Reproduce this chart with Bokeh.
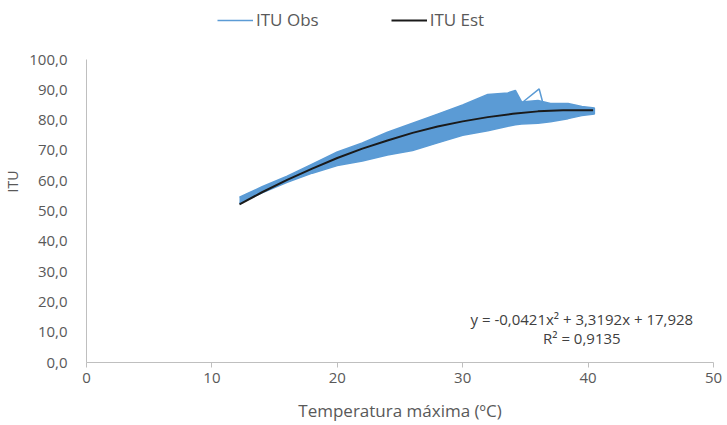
from bokeh.plotting import figure
from bokeh.models import Legend, LegendItem, Label, FixedTicker, Range1d
from bokeh.embed import file_html
from bokeh.resources import INLINE

obs_x    = [12.2, 14.0, 16.0, 18.0, 20.0, 22.0, 24.0, 26.0, 28.0, 30.0, 32.0, 33.6, 34.2, 34.7, 36.0, 37.0, 38.4, 39.5, 40.5]
obs_low  = [52.6, 56.0, 59.5, 62.5, 65.0, 66.5, 68.5, 70.0, 72.5, 75.0, 76.5, 78.0, 78.5, 78.7, 79.0, 79.5, 80.5, 81.5, 82.0]
obs_high = [54.6, 58.0, 61.5, 65.5, 69.5, 72.5, 76.0, 79.0, 82.0, 85.0, 88.5, 89.0, 89.8, 86.0, 86.5, 85.5, 85.5, 84.5, 84.0]
spike_x  = [34.8, 36.1, 36.4]
spike_y  = [86.0, 90.3, 85.6]

# Estimated ITU (trend curve)
est_x = [12.2, 14.0, 16.0, 18.0, 20.0, 22.0, 24.0, 26.0, 28.0, 30.0, 32.0, 34.0, 36.0, 38.0, 40.4]
est_y = [52.2, 56.2, 60.3, 64.0, 67.5, 70.6, 73.3, 75.8, 77.9, 79.6, 81.0, 82.1, 82.9, 83.3, 83.3]

x_ticks = [0, 10, 20, 30, 40, 50]
y_ticks = [0, 10, 20, 30, 40, 50, 60, 70, 80, 90, 100]
y_tick_labels = ["0,0", "10,0", "20,0", "30,0", "40,0", "50,0", "60,0", "70,0", "80,0", "90,0", "100,0"]

FONT = "Open Sans"
GRAY = "#595959"
AXIS = "#BFBFBF"
BLUE = "#5B9BD5"

# frame spans the full top so the legend can sit inside it; axis line bounded to 0..100
p = figure(width=727, height=425, output_backend="svg", toolbar_location=None,
           x_range=Range1d(0, 50), y_range=Range1d(0, 119.5),
           min_border_left=0, min_border_right=14, min_border_top=0, min_border_bottom=63)
p.outline_line_color = None
p.xgrid.visible = False
p.ygrid.visible = False
p.background_fill_color = "white"
p.border_fill_color = "white"

band = p.varea(x=obs_x, y1=obs_low, y2=obs_high, fill_color=BLUE)
outline = p.line(x=obs_x + obs_x[::-1], y=obs_high + obs_low[::-1], line_color=BLUE, line_width=1.5)
p.line(x=spike_x, y=spike_y, line_color=BLUE, line_width=1.5)
est = p.line(x=est_x, y=est_y, line_color="#1a1a1a", line_width=2)

# axes
p.xaxis.ticker = FixedTicker(ticks=x_ticks)
p.xaxis.major_label_overrides = {t: str(t) for t in x_ticks}
p.xaxis.axis_line_color = AXIS
p.xaxis.major_tick_line_color = AXIS
p.xaxis.major_tick_out = 5
p.xaxis.major_tick_in = 0
p.xaxis.minor_tick_line_color = None
p.xaxis.major_label_standoff = 5
p.xaxis.major_label_text_font = FONT
p.xaxis.major_label_text_font_size = "15px"
p.xaxis.major_label_text_color = GRAY
p.xaxis.axis_label = "Temperatura máxima (ºC)"
p.xaxis.axis_label_text_font = FONT
p.xaxis.axis_label_text_font_size = "17px"
p.xaxis.axis_label_text_font_style = "normal"
p.xaxis.axis_label_text_color = GRAY
p.xaxis.axis_label_standoff = 13

p.yaxis.ticker = FixedTicker(ticks=y_ticks)
p.yaxis.bounds = (0, 100)
p.yaxis.major_label_overrides = {t: l for t, l in zip(y_ticks, y_tick_labels)}
p.yaxis.axis_line_color = AXIS
p.yaxis.major_tick_line_color = None
p.yaxis.minor_tick_line_color = None
p.yaxis.major_label_standoff = 13
p.yaxis.major_label_text_font = FONT
p.yaxis.major_label_text_font_size = "15px"
p.yaxis.major_label_text_color = GRAY
p.yaxis.axis_label = "ITU"
p.yaxis.axis_label_text_font = FONT
p.yaxis.axis_label_text_font_size = "14px"
p.yaxis.axis_label_text_font_style = "normal"
p.yaxis.axis_label_text_color = GRAY
p.yaxis.axis_label_standoff = 4

legend = Legend(items=[LegendItem(label="ITU Obs", renderers=[outline]),
                       LegendItem(label="ITU Est", renderers=[est])],
                orientation="horizontal", location=(131, 331),
                glyph_width=36, label_standoff=3, spacing=72,
                label_text_font=FONT, label_text_font_size="17px", label_text_color=GRAY,
                border_line_color=None, background_fill_alpha=0, padding=0, margin=0)
p.add_layout(legend, "center")

p.add_layout(Label(x=39.5, y=14.5, text="y = -0,0421x² + 3,3192x + 17,928", text_align="center",
                   text_baseline="middle", text_font=FONT, text_font_size="15px", text_color="#404040"))
p.add_layout(Label(x=39.5, y=8.2, text="R² = 0,9135", text_align="center",
                   text_baseline="middle", text_font=FONT, text_font_size="15px", text_color="#404040"))

open("out.html", "w").write(file_html(p, INLINE))
